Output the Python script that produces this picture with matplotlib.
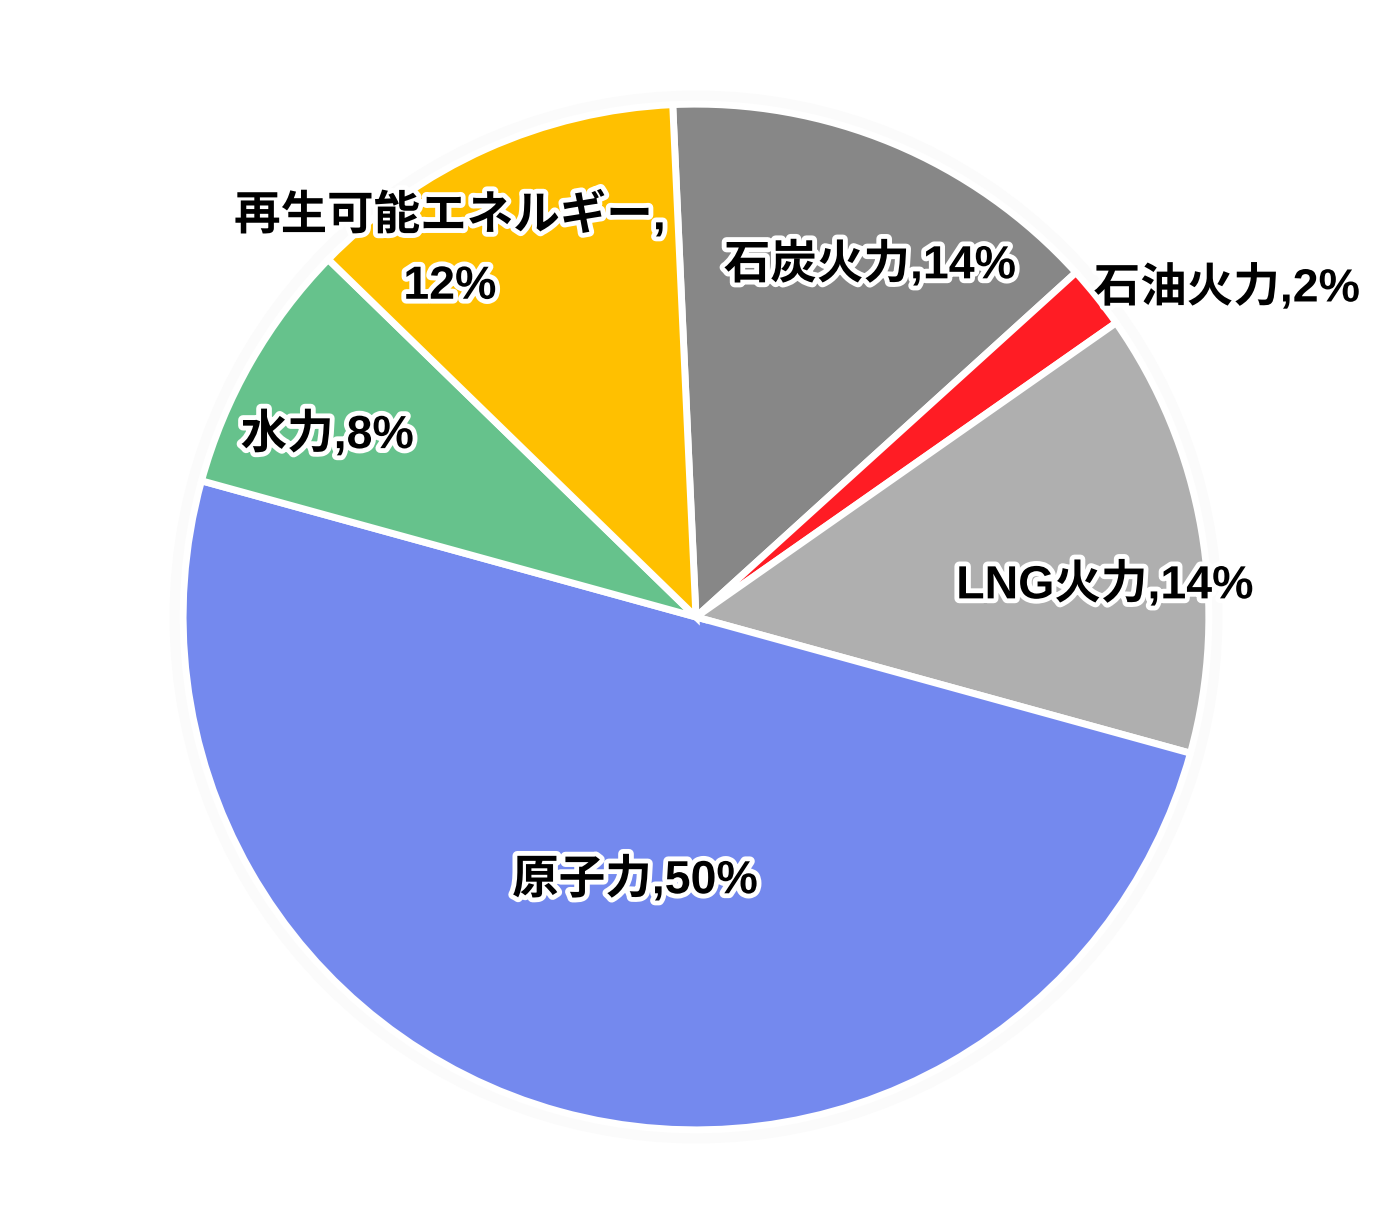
import matplotlib
matplotlib.use("Agg")
import matplotlib.pyplot as plt
import matplotlib.patheffects as pe

plt.rcParams['font.family'] = ['Liberation Sans', 'Noto Sans CJK JP']

# data (clockwise from the top)
sources = ["石炭火力", "石油火力", "LNG火力", "原子力", "水力", "再生可能エネルギー"]
shares = [14, 2, 14, 50, 8, 12]
colors = ["#878787", "#ff1c24", "#afafaf", "#7489ee", "#66c28c", "#ffc000"]

# label text and placement (pie radius = 1)
label_texts = ["石炭火力,14%", "石油火力,2%", "LNG火力,14%", "原子力,50%",
               "水力,8%", "再生可能エネルギー,\n12%"]
label_pos = [(0.339, 0.686), (1.035, 0.641), (0.797, 0.062), (-0.119, -0.513),
             (-0.719, 0.355), (-0.480, 0.715)]

fig = plt.figure(figsize=(13.94, 12.14), dpi=100)
ax = fig.add_axes([0, 0, 1, 1])

# faint halo around the pie
halo = plt.Circle((0, 0), 1.025, color="#fbfbfb", zorder=0)
ax.add_patch(halo)

ax.pie(shares, colors=colors, startangle=92.6, counterclock=False,
       radius=1.0, wedgeprops=dict(edgecolor="white", linewidth=5),
       frame=True)

for txt, (x, y) in zip(label_texts, label_pos):
    ax.text(x, y, txt, ha="center", va="center", fontsize=33.5,
            fontweight="bold", color="black", linespacing=1.75,
            path_effects=[pe.withStroke(linewidth=7, foreground="white")],
            zorder=5)

ax.set_xlim(-1.357, 1.361)
ax.set_ylim(-1.164, 1.203)
ax.set_aspect("auto")
ax.axis("off")

fig.savefig("out.png", dpi=100)
